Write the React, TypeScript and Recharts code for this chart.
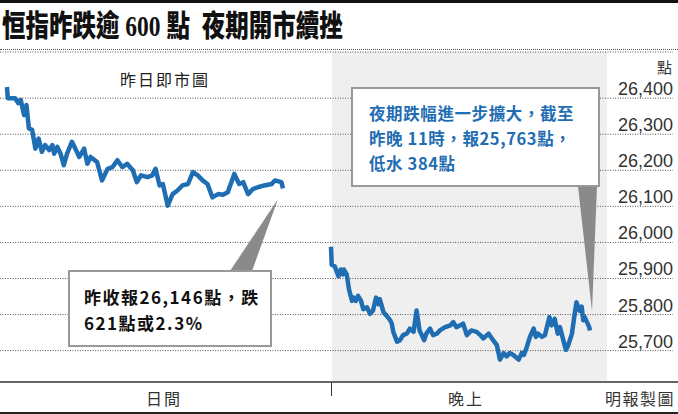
import { ComposedChart, Line, XAxis, YAxis, CartesianGrid } from 'recharts';

// 日間 (minutes from open) and index level
const dayMinutes = [0, 1, 10, 14, 17, 21, 24, 27, 31, 35, 39, 43, 47, 52, 56, 58, 62, 66, 70, 74, 80, 85, 89, 95, 99, 103, 111, 117, 124, 130, 136, 142, 148, 155, 160, 165, 173, 179, 183, 188, 192, 198, 204, 210, 216, 223, 229, 235, 241, 247, 253, 260, 266, 272, 280, 286, 291, 297, 303, 309, 317, 326, 330, 338, 340];
const dayValues = [26431, 26400, 26400, 26386, 26395, 26353, 26381, 26316, 26312, 26260, 26288, 26251, 26270, 26256, 26270, 26246, 26265, 26246, 26214, 26246, 26279, 26256, 26237, 26260, 26218, 26237, 26223, 26172, 26204, 26209, 26228, 26209, 26218, 26200, 26167, 26186, 26181, 26186, 26204, 26158, 26162, 26102, 26134, 26144, 26158, 26162, 26195, 26186, 26172, 26162, 26125, 26134, 26132, 26139, 26190, 26162, 26167, 26134, 26148, 26153, 26158, 26162, 26172, 26167, 26150];

// 晚上 (minutes from night open) and futures level
const nightMinutes = [0, 1, 5, 10, 13, 16, 17, 21, 24, 28, 30, 33, 36, 40, 43, 48, 52, 56, 60, 63, 65, 70, 74, 79, 81, 83, 88, 92, 96, 101, 105, 110, 114, 118, 121, 124, 127, 132, 136, 141, 145, 152, 159, 163, 167, 172, 176, 181, 187, 194, 199, 203, 210, 216, 221, 225, 230, 234, 238, 243, 250, 254, 257, 261, 265, 270, 273, 276, 281, 285, 291, 294, 298, 302, 305, 310, 313, 316, 321, 324, 327, 331, 334, 336, 338, 341, 344, 345];
const nightValues = [25988, 25938, 25934, 25906, 25925, 25911, 25925, 25911, 25870, 25838, 25847, 25838, 25852, 25838, 25815, 25820, 25802, 25811, 25847, 25829, 25843, 25806, 25797, 25784, 25775, 25752, 25725, 25729, 25743, 25747, 25761, 25752, 25811, 25756, 25743, 25729, 25747, 25761, 25743, 25747, 25756, 25765, 25770, 25779, 25765, 25770, 25775, 25743, 25756, 25752, 25743, 25734, 25747, 25729, 25715, 25675, 25693, 25684, 25693, 25688, 25675, 25693, 25688, 25711, 25738, 25761, 25738, 25747, 25738, 25743, 25793, 25770, 25788, 25747, 25765, 25725, 25702, 25715, 25747, 25793, 25834, 25811, 25822, 25784, 25793, 25779, 25765, 25756];

const yTicks = [25700, 25800, 25900, 26000, 26100, 26200, 26300, 26400];

const dayData = dayMinutes.map((t, i) => ({ t, v: dayValues[i] }));
const nightData = nightMinutes.map((t, i) => ({ t, v: nightValues[i] }));

const LINE_COLOR = '#1f6db3';
const CJK = "'Noto Sans CJK TC', 'Noto Sans', sans-serif";

const YTick = (props: any) => {
  const { x, y, payload } = props;
  return (
    <text x={x} y={y - 3} textAnchor="end" fontSize={18} fill="#333" fontFamily="'Liberation Sans', Arial, sans-serif">
      {Number(payload.value).toLocaleString('en-US')}
    </text>
  );
};

export default function App() {
  return (
    <div style={{ position: 'absolute', left: 0, top: 0, width: 678, height: 414, background: '#fff', overflow: 'hidden', fontFamily: CJK }}>
      {/* top rule + title */}
      <div style={{ position: 'absolute', left: 0, top: 0, width: 678, height: 3, background: '#111' }} />
      <div style={{ position: 'absolute', left: 2, top: 11, fontSize: 23.5, fontWeight: 900, color: '#111', whiteSpace: 'pre', transform: 'scaleY(1.25)', transformOrigin: 'top left', fontFamily: "'Liberation Serif', 'Noto Sans CJK TC', serif", lineHeight: '24px' }}>
        {'恒指昨跌逾 600 點  夜期開市續挫'}
      </div>
      <div style={{ position: 'absolute', left: 0, top: 49, width: 678, borderTop: '1px dotted #555' }} />

      {/* night session shading */}
      <div style={{ position: 'absolute', left: 332, top: 52, width: 275, height: 330, background: '#efefef' }} />

      <div style={{ position: 'absolute', left: 0, top: 0 }}>
        <ComposedChart width={678} height={414} margin={{ top: 52, right: 5, bottom: 32, left: 0 }}>
          <CartesianGrid vertical={false} stroke="#555" strokeDasharray="1 1.5" />
          <XAxis xAxisId="day" dataKey="t" type="number" domain={[-8.6, 820.4]} hide allowDataOverflow />
          <XAxis xAxisId="night" dataKey="t" type="number" domain={[-440.9, 455.6]} hide allowDataOverflow />
          <YAxis
            orientation="right"
            mirror
            width={60}
            type="number"
            domain={[25613, 26528]}
            ticks={yTicks}
            axisLine={false}
            tickLine={false}
            tickSize={0}
            tickMargin={0}
            tick={<YTick />}
            allowDataOverflow
          />
          <Line xAxisId="day" data={dayData} dataKey="v" type="linear" stroke={LINE_COLOR} strokeWidth={4.5} strokeLinejoin="round" dot={false} isAnimationActive={false} />
          <Line xAxisId="night" data={nightData} dataKey="v" type="linear" stroke={LINE_COLOR} strokeWidth={4.5} strokeLinejoin="round" dot={false} isAnimationActive={false} />
        </ComposedChart>
      </div>

      {/* labels */}
      <div style={{ position: 'absolute', left: 165, top: 79, transform: 'translate(-50%, -50%)', fontSize: 16, letterSpacing: 2, color: '#222', whiteSpace: 'nowrap' }}>昨日即市圖</div>
      <div style={{ position: 'absolute', right: 6, top: 56, fontSize: 15, color: '#333' }}>點</div>

      {/* axis lines */}
      <div style={{ position: 'absolute', left: 0, top: 381, width: 678, height: 1.5, background: '#666' }} />
      <div style={{ position: 'absolute', left: 331, top: 382, width: 1.2, height: 14, background: '#333' }} />
      <div style={{ position: 'absolute', left: 0, top: 412, width: 678, height: 2, background: '#222' }} />
      <div style={{ position: 'absolute', left: 164, top: 398, transform: 'translate(-50%, -50%)', fontSize: 16, letterSpacing: 2, color: '#333', whiteSpace: 'nowrap' }}>日間</div>
      <div style={{ position: 'absolute', left: 466, top: 398, transform: 'translate(-50%, -50%)', fontSize: 16, letterSpacing: 2, color: '#333', whiteSpace: 'nowrap' }}>晚上</div>
      <div style={{ position: 'absolute', right: 3, top: 398, transform: 'translateY(-50%)', fontSize: 16, letterSpacing: 1.5, color: '#333', whiteSpace: 'nowrap' }}>明報製圖</div>

      {/* callout pointers */}
      <svg width={678} height={414} style={{ position: 'absolute', left: 0, top: 0 }}>
        <polygon points="230,271 252,271 278,199" fill="#8a8a8a" />
        <polygon points="578,186 597,186 592,311" fill="#8a8a8a" />
      </svg>

      {/* callout boxes */}
      <div style={{ position: 'absolute', left: 351, top: 87, width: 249, height: 100, boxSizing: 'border-box', background: '#fff', border: '2px solid #999', padding: '12px 0 0 16px', fontSize: 16.5, fontWeight: 700, lineHeight: '25px', letterSpacing: 0.6, color: '#1f6db3', whiteSpace: 'nowrap' }}>
        <div>夜期跌幅進一步擴大，截至</div>
        <div>昨晚 11時，報25,763點，</div>
        <div>低水 384點</div>
      </div>
      <div style={{ position: 'absolute', left: 68, top: 270, width: 204, height: 77, boxSizing: 'border-box', background: '#fff', border: '2px solid #999', padding: '12px 0 0 14px', fontSize: 17, fontWeight: 700, lineHeight: '26px', letterSpacing: 1.5, color: '#111', whiteSpace: 'nowrap' }}>
        <div>昨收報26,146點，跌</div>
        <div>621點或2.3%</div>
      </div>
    </div>
  );
}
